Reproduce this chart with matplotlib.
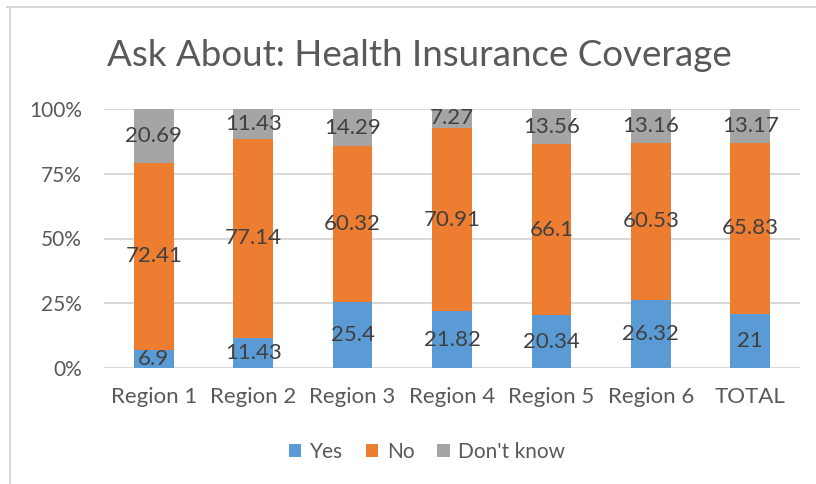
import matplotlib.pyplot as plt
import numpy as np
from matplotlib.lines import Line2D

# Data
regions = ['Region 1', 'Region 2', 'Region 3', 'Region 4', 'Region 5', 'Region 6', 'TOTAL']
yes = [6.9, 11.43, 25.4, 21.82, 20.34, 26.32, 21]
no = [72.41, 77.14, 60.32, 70.91, 66.1, 60.53, 65.83]
dont_know = [20.69, 11.43, 14.29, 7.27, 13.56, 13.16, 13.17]

series_names = ['Yes', 'No', "Don't know"]
colors = ['#5B9BD5', '#ED7D31', '#A5A5A5']

plt.rcParams['font.family'] = ['Lato', 'DejaVu Sans']

values = np.array([yes, no, dont_know], dtype=float)
shares = values / values.sum(axis=0) * 100  # 100% stacked

fig = plt.figure(figsize=(8.16, 4.84), dpi=100)
ax = fig.add_axes([104 / 816, 1 - 368 / 484, 696 / 816, 259 / 484])

x = np.arange(len(regions))
bottom = np.zeros(len(regions))
for i, name in enumerate(series_names):
    bars = ax.bar(x, shares[i], 0.4, bottom=bottom, color=colors[i], label=name, zorder=2)
    # label each segment with its raw value
    for j, bar in enumerate(bars):
        ax.text(bar.get_x() + bar.get_width() / 2, bottom[j] + shares[i][j] / 2,
                f'{values[i][j]:g}', ha='center', va='center',
                fontsize=16, color='#404040', zorder=3)
    bottom += shares[i]

ax.set_xlim(-0.5, len(regions) - 0.5)
ax.set_ylim(0, 100)
ax.set_yticks([0, 25, 50, 75, 100])
ax.set_yticklabels(['0%', '25%', '50%', '75%', '100%'])
ax.set_xticks(x)
ax.set_xticklabels(regions)
ax.tick_params(axis='both', length=0, colors='#595959')
ax.tick_params(axis='x', pad=14, labelsize=16)
ax.tick_params(axis='y', pad=16, labelsize=15)
ax.grid(axis='y', color='#D9D9D9', linewidth=1.5, zorder=0)
for s in ax.spines.values():
    s.set_visible(False)

fig.text(419 / 816, 1 - 55 / 484, 'Ask About: Health Insurance Coverage',
         ha='center', va='center', fontsize=26.5, color='#595959')

leg = fig.legend(loc='center', bbox_to_anchor=(427 / 816, 1 - 452 / 484), ncol=3,
                 frameon=False, fontsize=15, handlelength=0.6, handleheight=0.6,
                 handletextpad=0.4, columnspacing=1.1)
for t in leg.get_texts():
    t.set_color('#595959')

# chart frame (top and left edges visible in the crop)
fig.add_artist(Line2D([7 / 816, 1], [1 - 7 / 484] * 2, color='#D9D9D9', linewidth=1.5))
fig.add_artist(Line2D([10 / 816] * 2, [0, 1 - 7 / 484], color='#D9D9D9', linewidth=1.5))

plt.savefig('out.png', dpi=100)
